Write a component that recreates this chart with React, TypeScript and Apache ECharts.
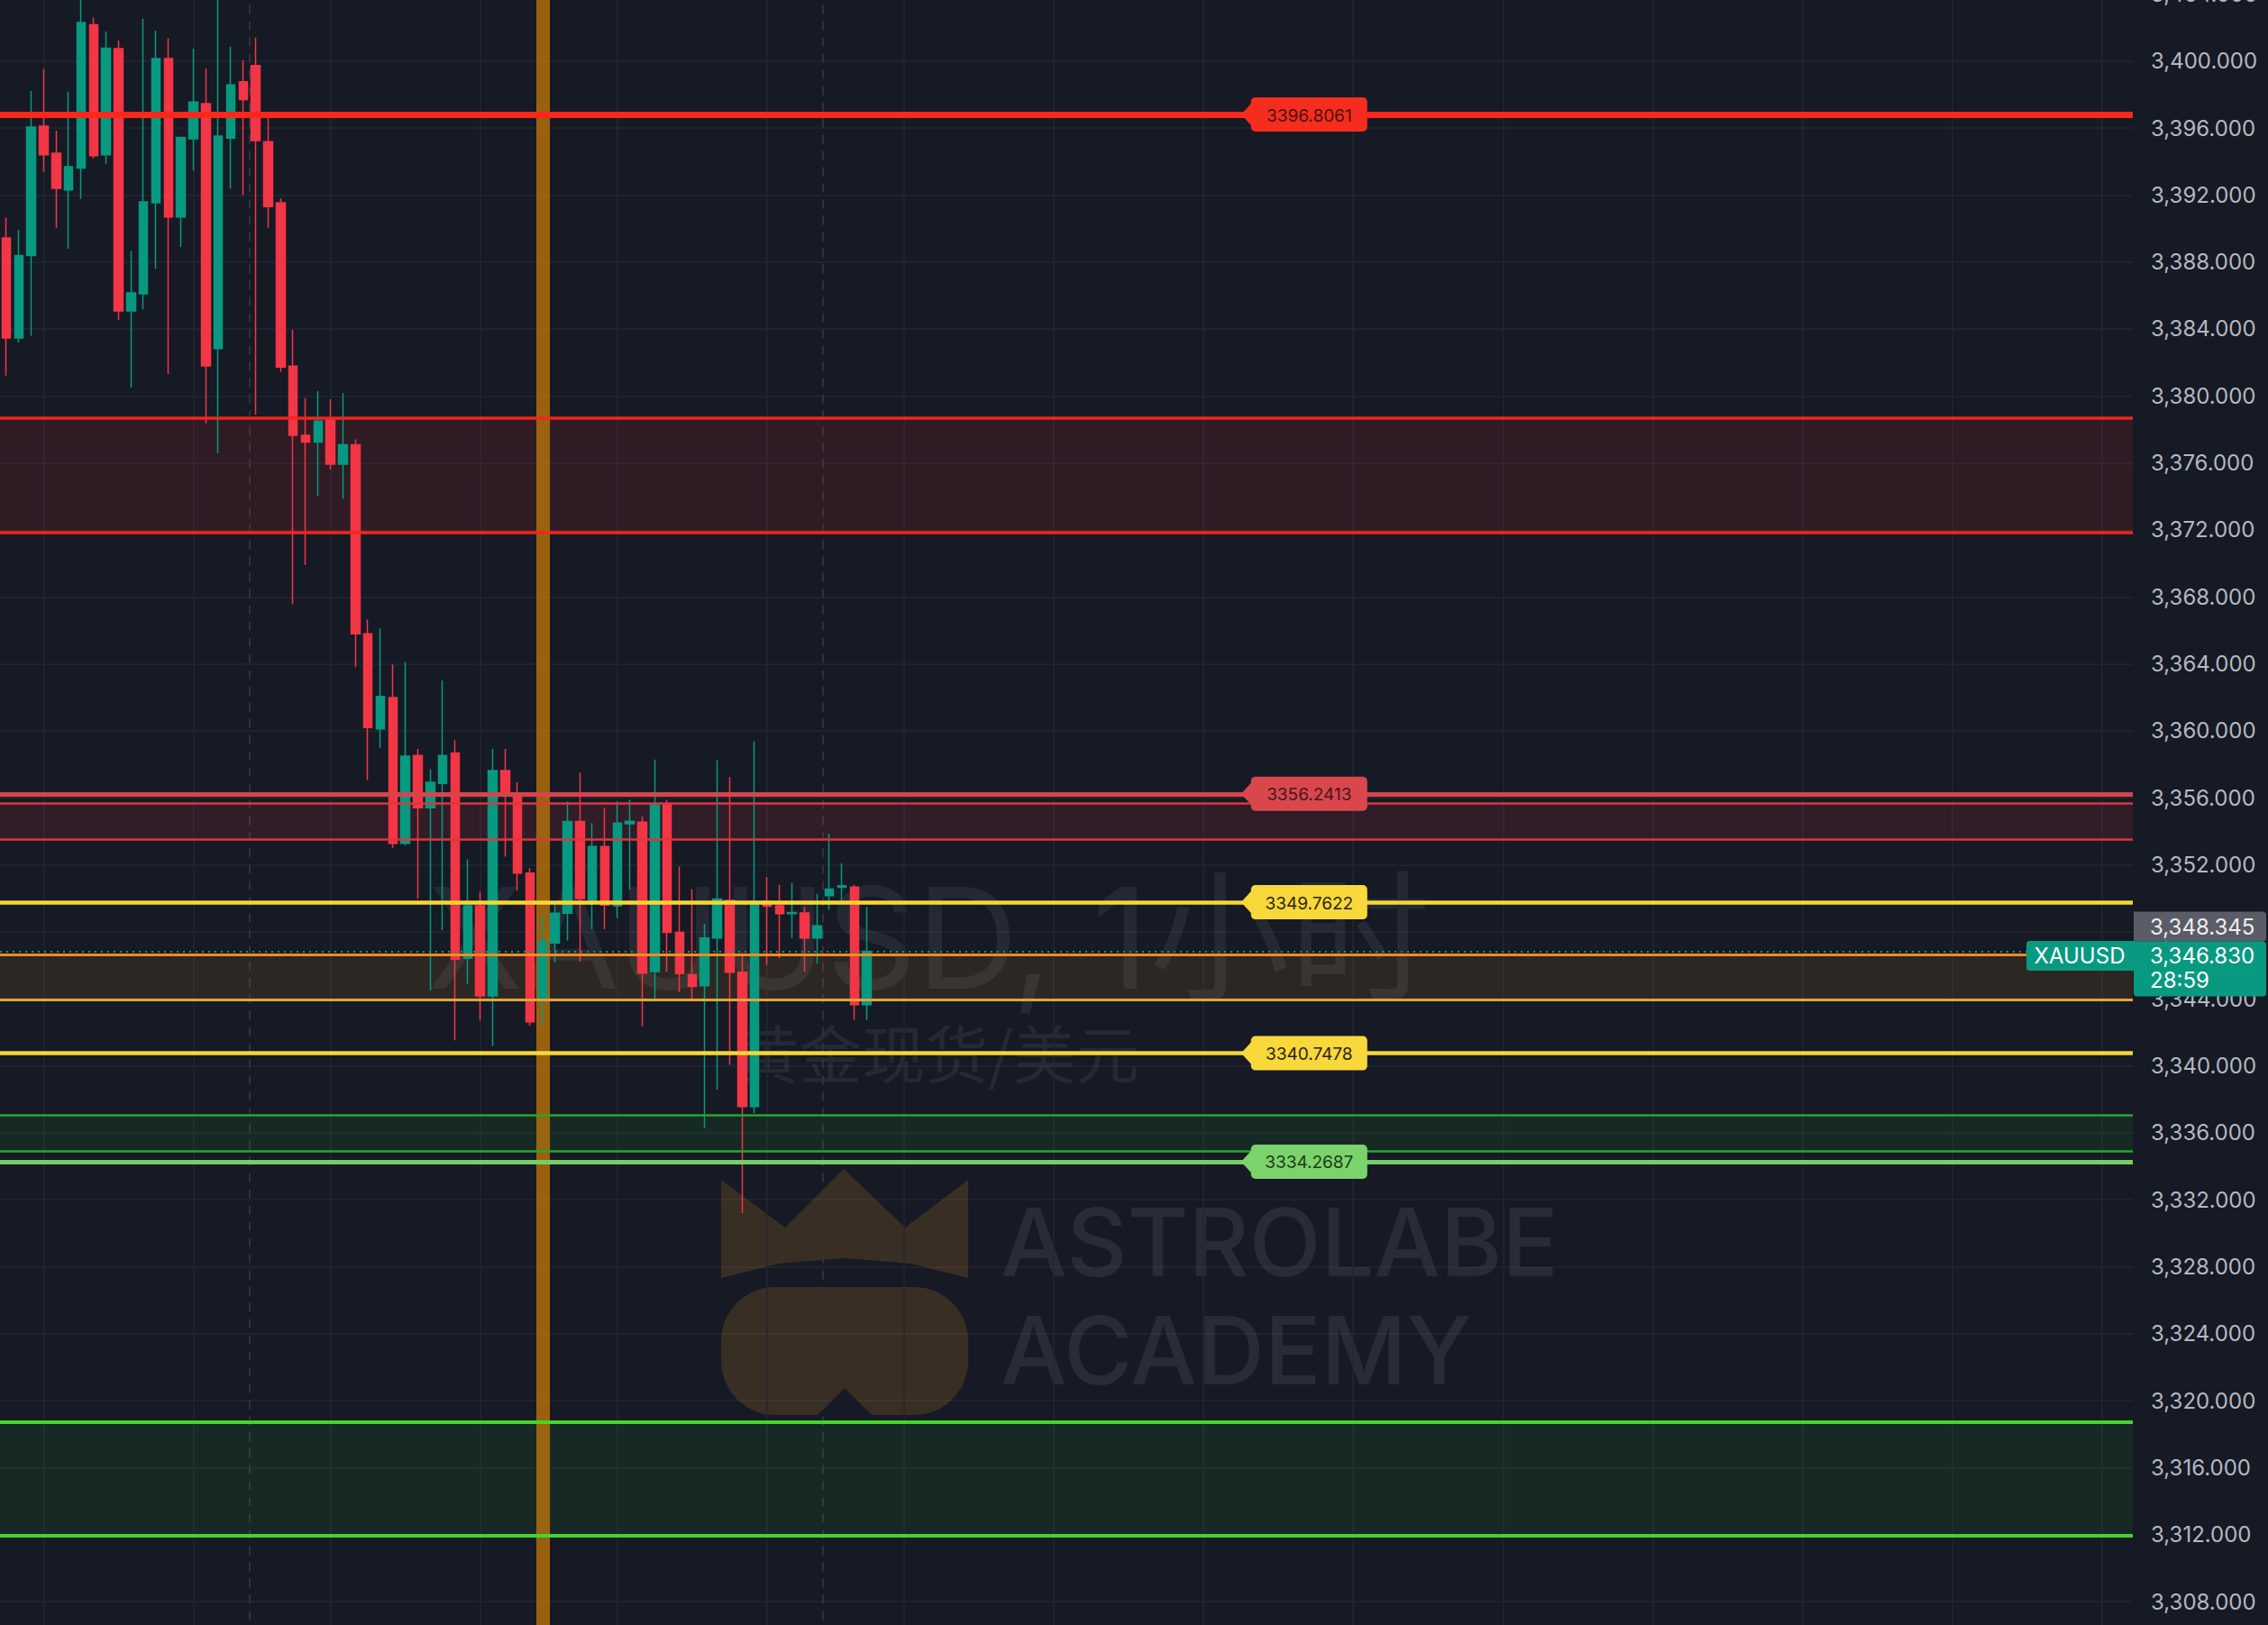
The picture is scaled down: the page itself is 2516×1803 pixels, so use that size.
import React, { useEffect, useRef } from "react";
import * as echarts from "echarts";

// ---------------- data ----------------
const SLOT_COUNT = 171;
const CANDLE_OPEN = [
  3389.43, 3383.46, 3388.39, 3396.11, 3394.49, 3392.3, 3393.6, 3402.17, 3394.4, 3400.74,
  3385.08, 3386.1, 3391.53, 3400.15, 3390.69, 3395.36, 3397.45, 3382.83, 3395.39, 3398.76,
  3399.73, 3395.18, 3391.53, 3381.78, 3377.65, 3377.25, 3378.56, 3375.92, 3377.08, 3365.8,
  3360.12, 3361.99, 3353.28, 3358.53, 3355.4, 3356.86, 3358.67, 3346.42, 3349.55, 3344.17,
  3357.62, 3356.13, 3351.51, 3344.06, 3347.33, 3349.11, 3354.59, 3349.88, 3353.09, 3349.55,
  3354.45, 3354.54, 3345.63, 3355.65, 3347.97, 3345.44, 3344.78, 3347.63, 3349.88, 3345.58,
  3337.57, 3349.82, 3349.56, 3349.08, 3349.12, 3347.63, 3350.16, 3350.65, 3350.67, 3343.64,
];
const CANDLE_CLOSE = [
  3383.46, 3388.39, 3396.05, 3394.4, 3392.4, 3393.69, 3402.3, 3394.35, 3400.77, 3385.08,
  3386.15, 3391.59, 3400.15, 3390.69, 3395.43, 3397.55, 3381.79, 3395.52, 3398.57, 3397.69,
  3395.25, 3391.3, 3381.72, 3377.65, 3377.25, 3378.49, 3375.92, 3377.08, 3365.8, 3360.2,
  3362.05, 3353.28, 3358.49, 3355.4, 3356.93, 3358.53, 3346.36, 3349.55, 3344.17, 3357.62,
  3356.36, 3351.51, 3342.63, 3347.44, 3349.11, 3354.59, 3349.98, 3353.09, 3349.59, 3354.49,
  3354.6, 3345.53, 3355.65, 3347.97, 3345.5, 3344.74, 3347.63, 3349.96, 3345.58, 3337.57,
  3349.82, 3349.52, 3349.08, 3349.15, 3347.63, 3348.36, 3350.55, 3350.75, 3343.64, 3346.83,
];
const CANDLE_LOW = [
  3381.22, 3383.19, 3383.59, 3393.38, 3390.04, 3388.79, 3391.77, 3394.17, 3393.86, 3384.54,
  3380.5, 3385.17, 3387.59, 3381.31, 3388.9, 3393.47, 3378.35, 3376.59, 3392.38, 3391.98,
  3378.89, 3390.04, 3381.43, 3367.57, 3369.91, 3374.04, 3375.6, 3373.87, 3363.82, 3357.05,
  3358.97, 3353.01, 3353.15, 3349.98, 3344.5, 3348.1, 3341.52, 3344.88, 3342.71, 3341.17,
  3352.48, 3350.46, 3342.38, 3342.52, 3346.17, 3347.48, 3346.23, 3348.15, 3348.15, 3348.82,
  3350.51, 3342.35, 3343.84, 3345.63, 3344.38, 3343.98, 3336.28, 3338.57, 3340.06, 3331.2,
  3337.17, 3346.03, 3346.43, 3347.63, 3345.63, 3346.09, 3349.32, 3349.82, 3342.74, 3342.74,
];
const CANDLE_HIGH = [
  3390.64, 3389.92, 3398.21, 3399.52, 3395.84, 3398.17, 3404.2, 3402.6, 3401.76, 3401.22,
  3388.66, 3402.53, 3401.81, 3401.35, 3395.48, 3400.74, 3399.55, 3404.5, 3400.86, 3400.05,
  3401.4, 3396.65, 3391.8, 3383.95, 3379.87, 3380.29, 3379.8, 3380.17, 3377.4, 3366.66,
  3366.12, 3363.97, 3364.11, 3358.92, 3357.7, 3363.01, 3359.44, 3352.32, 3350.4, 3358.92,
  3358.92, 3356.93, 3351.8, 3349.02, 3349.69, 3355.78, 3357.51, 3354.49, 3355.4, 3355.78,
  3355.89, 3354.89, 3358.28, 3355.89, 3351.9, 3350.55, 3348.48, 3358.24, 3357.24, 3346.73,
  3359.38, 3351.27, 3350.81, 3350.91, 3349.48, 3350.27, 3353.86, 3352.1, 3350.81, 3349.48,
];

const Y_MIN = 3304;
const Y_MAX = 3404;
const Y_STEP = 4;

const V_GRID_INDEX = [3, 15, 26, 38, 49, 61, 72, 84, 96, 108, 120, 132, 144, 156, 168];
const SESSION_BREAK_INDEX = [19.5, 65.5];
const HIGHLIGHT_INDEX = 43;

const LEVEL_VALUES = [3396.8061, 3356.2413, 3349.7622, 3340.7478, 3334.2687];
const ZONE_LOW = [3371.85, 3353.5, 3343.94, 3334.92, 3311.92];
const ZONE_HIGH = [3378.7, 3355.7, 3346.65, 3337.05, 3318.73];

const SYMBOL = "XAUUSD";
const LAST_PRICE = 3346.83;
const REF_PRICE = 3348.345;
const COUNTDOWN = "28:59";
const WATERMARK_TITLE = "XAUUSD, 1小时";
const WATERMARK_SUB = "黄金现货/美元";
const BRAND_LINE1 = "ASTROLABE";
const BRAND_LINE2 = "ACADEMY";

// ---------------- styles ----------------
const W = 2516;
const H = 1803;
const PAD = 100; // canvas extends PAD px above and below the visible page
const CH = H + 2 * PAD;
const BG = "#161a25";
const GRID_COLOR = "#232733";
const UP = "#089981";
const DOWN = "#f23645";
const FONT = "Inter, 'Noto Sans', 'Noto Sans CJK SC', sans-serif";

const LEVEL_COLORS = ["#f9281b", "#d9434a", "#f7d736", "#f7d736", "#74d062"];
const LEVEL_WIDTHS = [7, 5, 4.5, 4.5, 5];
const TAG_COLORS = ["#f52d1f", "#d9474d", "#f8d83a", "#f8d83a", "#7bd36b"];
const TAG_TEXT_COLORS = ["#4a120a", "#45181a", "#2a2410", "#2a2410", "#1e3a1a"];

const ZONE_FILLS = [
  "rgba(242,38,40,0.11)",
  "rgba(242,54,69,0.12)",
  "rgba(200,130,30,0.13)",
  "rgba(30,150,30,0.13)",
  "rgba(30,150,30,0.13)",
];
const ZONE_TOP_COLORS = ["#f2261d", "#e0353d", "#f78b1c", "#26a82c", "#45d42b"];
const ZONE_BOTTOM_COLORS = ["#f2261d", "#e0353d", "#e0a43a", "#26a82c", "#45d42b"];
const ZONE_WIDTHS = [3.5, 2.5, 3, 2.5, 4];

const fmtAxis = (v: number) =>
  v.toLocaleString("en-US", { minimumFractionDigits: 3, maximumFractionDigits: 3 });

function buildOption(): any {
  const cats = Array.from({ length: SLOT_COUNT }, (_, i) => String(i));
  const candles = CANDLE_OPEN.map((o, i) => [o, CANDLE_CLOSE[i], CANDLE_LOW[i], CANDLE_HIGH[i]]);

  // page y: 3400 -> 67.7px, 18.58 px per unit
  const pxPerUnit = 18.58;
  const topPx = PAD + 67.7 - (Y_MAX - 3400) * pxPerUnit;
  const bottomPx = PAD + 67.7 + (3400 - Y_MIN) * pxPerUnit;

  const levelLines: any[] = LEVEL_VALUES.map((v, i) => ({
    yAxis: v,
    lineStyle: { color: LEVEL_COLORS[i], width: LEVEL_WIDTHS[i], type: "solid" },
  }));
  const zoneLines: any[] = [];
  ZONE_LOW.forEach((lo, i) => {
    zoneLines.push({ yAxis: ZONE_HIGH[i], lineStyle: { color: ZONE_TOP_COLORS[i], width: ZONE_WIDTHS[i], type: "solid" } });
    zoneLines.push({ yAxis: lo, lineStyle: { color: ZONE_BOTTOM_COLORS[i], width: ZONE_WIDTHS[i], type: "solid" } });
  });
  const priceLine = {
    yAxis: LAST_PRICE,
    lineStyle: { color: UP, width: 2, type: [2, 5] },
  };

  const zoneAreas = ZONE_LOW.map((lo, i) => [
    { yAxis: ZONE_HIGH[i], itemStyle: { color: ZONE_FILLS[i] } },
    { yAxis: lo },
  ]);

  const dummy = [[0, 3350]];

  return {
    animation: false,
    backgroundColor: BG,
    grid: { left: -1, right: 150, top: topPx, bottom: CH - bottomPx },
    xAxis: [
      { type: "category", data: cats, show: false, boundaryGap: true },
      { type: "value", min: -0.5, max: SLOT_COUNT - 0.5, show: false },
    ],
    yAxis: {
      type: "value",
      position: "right",
      min: Y_MIN,
      max: Y_MAX,
      interval: Y_STEP,
      axisLine: { show: false },
      axisTick: { show: false },
      splitLine: { show: true, lineStyle: { color: GRID_COLOR, width: 1.5 } },
      axisLabel: {
        show: true,
        margin: 20,
        color: "#b5b8c0",
        fontSize: 24,
        fontFamily: FONT,
        align: "left",
        showMinLabel: true,
        showMaxLabel: true,
        formatter: (v: number) => fmtAxis(v),
      },
    },
    series: [
      {
        type: "line",
        xAxisIndex: 1,
        data: dummy,
        symbol: "none",
        lineStyle: { opacity: 0 },
        silent: true,
        markLine: {
          z: 0.5,
          silent: true,
          symbol: ["none", "none"],
          label: { show: false },
          data: [
            ...V_GRID_INDEX.map((x) => ({ xAxis: x, lineStyle: { color: GRID_COLOR, width: 1.5, type: "solid" } })),
            ...SESSION_BREAK_INDEX.map((x) => ({ xAxis: x, lineStyle: { color: "#2e323d", width: 2, type: [10, 8] } })),
          ],
        },
      },
      {
        type: "line",
        xAxisIndex: 1,
        data: dummy,
        symbol: "none",
        lineStyle: { opacity: 0 },
        silent: true,
        markLine: {
          z: 1.5,
          silent: true,
          symbol: ["none", "none"],
          label: { show: false },
          data: [{ xAxis: HIGHLIGHT_INDEX, lineStyle: { color: "rgba(176,110,10,0.85)", width: 15, type: "solid" } }],
        },
      },
      {
        type: "candlestick",
        name: SYMBOL,
        data: candles,
        barWidth: 10,
        z: 2,
        itemStyle: {
          color: UP,
          color0: DOWN,
          borderColor: UP,
          borderColor0: DOWN,
          borderWidth: 1.5,
        },
      },
      {
        type: "line",
        data: [],
        symbol: "none",
        silent: true,
        markArea: { z: 1, silent: true, label: { show: false }, data: zoneAreas },
        markLine: {
          z: 5,
          silent: true,
          symbol: ["none", "none"],
          label: { show: false },
          data: [...zoneLines, priceLine, ...levelLines],
        },
      },
    ],
  };
}

function txt(x: number, y: number, text: string, font: string, fill: string, align: string, z: number) {
  return {
    type: "text",
    x,
    y,
    z,
    silent: true,
    style: { text, font, fill, textAlign: align, textVerticalAlign: "middle" },
  };
}

function buildGraphics(chart: any): any[] {
  const yPx = (v: number) => chart.convertToPixel({ yAxisIndex: 0 }, v) as number;
  const xPx = (i: number) => chart.convertToPixel({ xAxisIndex: 1 }, i) as number;
  const els: any[] = [];
  const P = PAD;

  // watermark
  els.push(txt(1030, P + 1040, WATERMARK_TITLE, `400 156px ${FONT}`, "rgba(140,146,165,0.13)", "center", 0));
  els.push(txt(1040, P + 1166, WATERMARK_SUB, `400 70px 'Noto Sans CJK SC', ${FONT}`, "rgba(140,146,165,0.13)", "center", 0));

  // brand logo
  const logo = "rgba(200,130,30,0.2)";
  els.push({
    type: "polygon",
    z: 0,
    silent: true,
    shape: {
      points: [
        [800, P + 1309], [871, P + 1362], [936, P + 1297], [1004, P + 1362], [1074, P + 1309],
        [1074, P + 1418], [1010, P + 1402], [937, P + 1396], [864, P + 1402], [800, P + 1418],
      ],
    },
    style: { fill: logo },
  });
  els.push({
    type: "rect",
    z: 0,
    silent: true,
    shape: { x: 800, y: P + 1428, width: 274, height: 142, r: 60 },
    style: { fill: logo },
  });
  els.push({
    type: "polygon",
    z: 0.1,
    silent: true,
    shape: { points: [[905, P + 1572], [937, P + 1540], [969, P + 1572]] },
    style: { fill: BG },
  });
  els.push(txt(1110, P + 1378, BRAND_LINE1, `500 104px ${FONT}`, "rgba(140,146,165,0.15)", "left", 0));
  els.push(txt(1110, P + 1498, BRAND_LINE2, `500 104px ${FONT}`, "rgba(140,146,165,0.15)", "left", 0));

  // level tags
  const tagLeft = xPx(99.8);
  LEVEL_VALUES.forEach((v, i) => {
    const y = yPx(v);
    els.push({
      type: "polygon",
      z: 10,
      silent: true,
      shape: { points: [[tagLeft - 11, y], [tagLeft + 1, y - 13], [tagLeft + 1, y + 13]] },
      style: { fill: TAG_COLORS[i] },
    });
    els.push({
      type: "rect",
      z: 10,
      silent: true,
      shape: { x: tagLeft, y: y - 19, width: 129, height: 38, r: 5 },
      style: { fill: TAG_COLORS[i] },
    });
    els.push(txt(tagLeft + 64.5, y + 1, v.toFixed(4), `400 19px ${FONT}`, TAG_TEXT_COLORS[i], "center", 11));
  });

  // right-side price labels
  const axisX = 2367;
  const yRef = yPx(REF_PRICE);
  els.push({
    type: "rect",
    z: 20,
    silent: true,
    shape: { x: axisX, y: yRef - 16, width: 147, height: 33, r: [0, 4, 4, 0] },
    style: { fill: "#5a5d67" },
  });
  els.push(txt(axisX + 18, yRef + 1, fmtAxis(REF_PRICE), `400 24px ${FONT}`, "#eeeeee", "left", 21));

  const yLast = yPx(LAST_PRICE);
  els.push({
    type: "rect",
    z: 20,
    silent: true,
    shape: { x: 2248, y: yLast - 11.5, width: 120, height: 33, r: [4, 0, 0, 4] },
    style: { fill: UP },
  });
  els.push(txt(2307, yLast + 5, SYMBOL, `400 24px ${FONT}`, "#ffffff", "center", 21));
  els.push({
    type: "rect",
    z: 20,
    silent: true,
    shape: { x: axisX, y: yLast - 11, width: 147, height: 61, r: [0, 4, 4, 4] },
    style: { fill: UP },
  });
  els.push(txt(axisX + 18, yLast + 5, fmtAxis(LAST_PRICE), `400 24px ${FONT}`, "#ffffff", "left", 21));
  els.push(txt(axisX + 18, yLast + 32, COUNTDOWN, `400 24px ${FONT}`, "#ffffff", "left", 21));

  return els;
}

export default function App() {
  const ref = useRef<HTMLDivElement>(null);
  useEffect(() => {
    if (!ref.current) return;
    const chart = echarts.init(ref.current, null, { renderer: "svg", width: W, height: CH });
    chart.setOption(buildOption());
    chart.setOption({ graphic: { elements: buildGraphics(chart) } });
    return () => chart.dispose();
  }, []);
  return (
    <div style={{ position: "fixed", left: 0, top: 0, width: W, height: H, overflow: "hidden", background: BG }}>
      <div ref={ref} style={{ position: "absolute", left: 0, top: -PAD, width: W, height: CH }} />
    </div>
  );
}
